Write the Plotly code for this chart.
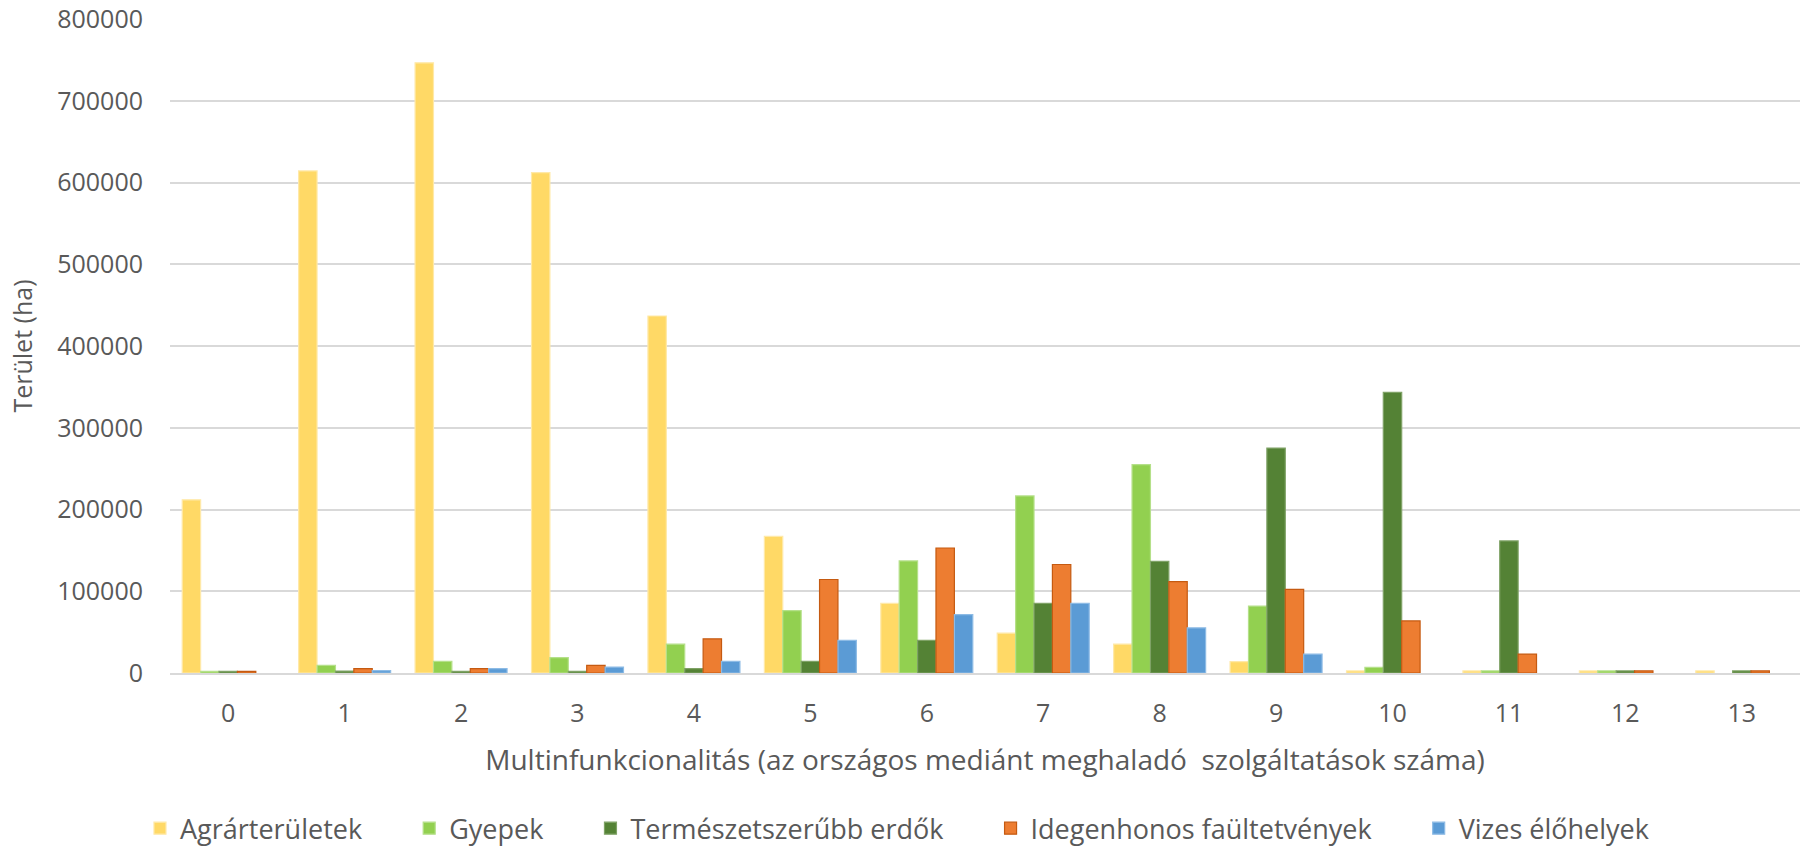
import plotly.graph_objects as go

categories = [str(i) for i in range(14)]

agrar = [211800, 614200, 746400, 612200, 436700, 167100, 85200, 48700, 35300, 13800, 2500, 2500, 2500, 2500]
gyepek = [2000, 9400, 14300, 18800, 35300, 76300, 137100, 216600, 255000, 81900, 6900, 2500, 2500, None]
erdok = [2000, 2400, 2000, 2000, 5300, 14200, 39800, 85200, 136500, 275100, 343200, 161500, 2500, 2500]
idegen = [2000, 5300, 5300, 9400, 41800, 114400, 152900, 132700, 111800, 102200, 63700, 23100, 2500, 2500]
vizes = [None, 2800, 5300, 7300, 14200, 39800, 71400, 85200, 55200, 23100, None, None, None, None]

series = [
    ("Agrárterületek", agrar, "#FFD966", "#FFE9A8"),
    ("Gyepek", gyepek, "#92D050", "#B5E08A"),
    ("Természetszerűbb erdők", erdok, "#548235", "#7FA266"),
    ("Idegenhonos faültetvények", idegen, "#ED7D31", "#C55A11"),
    ("Vizes élőhelyek", vizes, "#5B9BD5", "#8DBBE5"),
]

y_ticks = [0, 100000, 200000, 300000, 400000, 500000, 600000, 700000, 800000]

FONT = "Open Sans"
GRAY = "#595959"
PAD = "\u00a0" * 6

fig = go.Figure()
for i, (name, vals, col, line) in enumerate(series):
    label = name + (PAD if i < len(series) - 1 else "")
    fig.add_trace(go.Bar(
        name=label, x=categories, y=vals,
        marker=dict(color=col, line=dict(color=line, width=1.2)),
    ))

fig.update_layout(
    width=1805, height=852,
    paper_bgcolor="white", plot_bgcolor="white",
    margin=dict(l=170, r=5, t=19, b=179, autoexpand=False),
    barmode="group", bargap=0.21, bargroupgap=0,
    font=dict(family=FONT, color=GRAY, size=25),
    showlegend=True,
    legend=dict(
        orientation="h", x=0.446, xanchor="center", y=-0.238, yanchor="middle",
        font=dict(family=FONT, size=27, color=GRAY),
        itemwidth=30, tracegroupgap=0,
    ),
    xaxis=dict(
        type="category", range=[-0.5, 13.5], automargin=False,
        showgrid=False, showline=True, linecolor="#D9D9D9", linewidth=1.5,
        ticks="", tickfont=dict(size=25, color=GRAY), ticklabelstandoff=17,
        title=dict(text="Multinfunkcionalitás (az országos mediánt meghaladó  szolgáltatások száma)",
                   font=dict(size=28, color=GRAY), standoff=23),
        fixedrange=True,
    ),
    yaxis=dict(
        range=[0, 800000], tickvals=y_ticks, ticktext=[str(v) for v in y_ticks],
        automargin=False, ticklabeloverflow="allow",
        showgrid=True, gridcolor="#D9D9D9", gridwidth=1.5, zeroline=False,
        showline=False, ticks="", tickfont=dict(size=25, color=GRAY), ticklabelstandoff=26,
        title=dict(text="Terület (ha)", font=dict(size=25, color=GRAY), standoff=17),
        fixedrange=True,
    ),
)

fig.write_html("out.html", config={"displayModeBar": False},
               post_script="document.body.style.margin='0';")
